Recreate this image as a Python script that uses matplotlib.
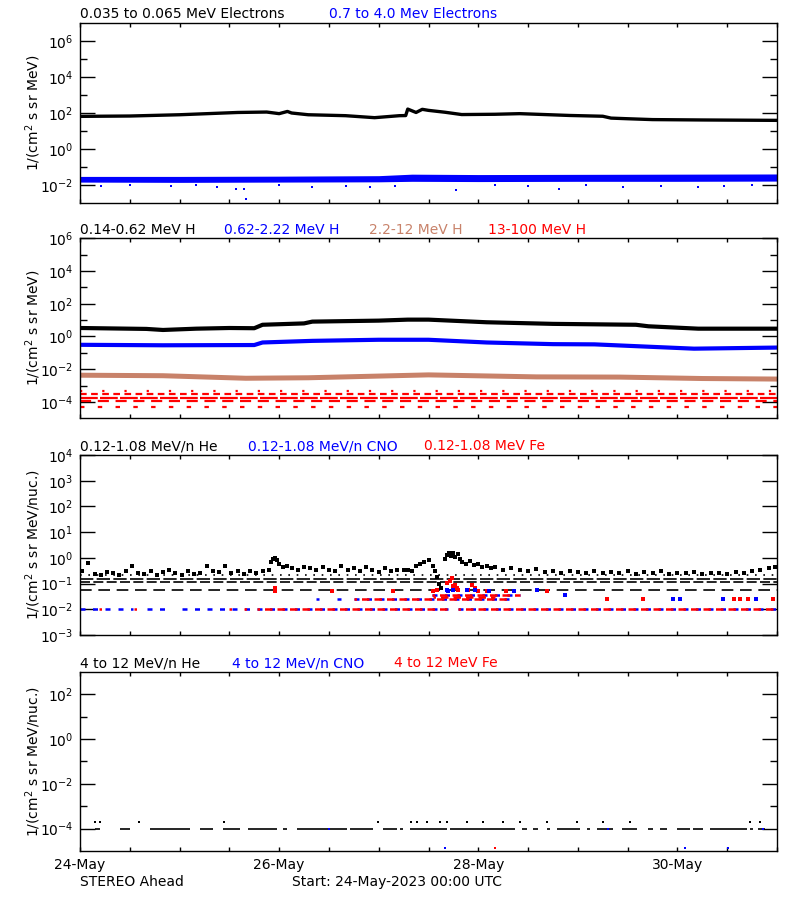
import matplotlib
matplotlib.use("Agg")
import matplotlib.pyplot as plt
from matplotlib.ticker import FixedLocator, NullFormatter, NullLocator, LogFormatterSciNotation

# time axis in hours from 24-May-2023 00:00
tick_hours = [0, 12, 24, 36, 48, 60, 72, 84, 96, 108, 120, 132, 144, 156, 168]
label_hours = [0, 48, 96, 144]
day_labels = ["24-May", "26-May", "28-May", "30-May"]

# ---- panel 1: electrons
e_lo_t = [0, 12, 24, 38, 45, 48, 50, 51, 55, 64, 71, 77, 78.5, 79, 81, 82.5, 84, 88, 92,
          100, 106, 112, 118, 126, 128, 132, 138, 150, 168]
e_lo_v = [65, 68, 80, 107, 113, 92, 122, 100, 80, 71, 55, 71, 72, 165, 107, 160, 140, 110, 82,
          85, 92, 82, 73, 66, 52, 48, 43, 41, 39]
e_hi_t = [0, 24, 48, 72, 80, 96, 120, 144, 168]
e_hi_lo = [0.0145, 0.014, 0.0145, 0.015, 0.016, 0.0155, 0.016, 0.016, 0.0165]
e_hi_up = [0.030, 0.030, 0.031, 0.033, 0.040, 0.038, 0.039, 0.040, 0.041]
e_hi_out_t = [5, 12, 22, 28, 33, 37.6, 39.5, 40, 48, 56, 64, 70, 76, 90.6, 100, 108, 115.4,
              122, 131, 140, 149, 155.3, 162]
e_hi_out_v = [0.009, 0.0095, 0.0085, 0.01, 0.0075, 0.0063, 0.0063, 0.0017, 0.0095, 0.0075,
              0.0085, 0.0075, 0.009, 0.005, 0.0095, 0.009, 0.0063, 0.0095, 0.0078, 0.009,
              0.0078, 0.009, 0.0095]

# ---- panel 2: protons
h_t1 = [0, 16, 20, 28, 36, 42, 44, 54, 56, 72, 79, 84, 98, 114, 134, 137, 149, 168]
h_v1 = [3.3, 2.9, 2.5, 3.0, 3.3, 3.2, 5.2, 6.3, 8.1, 9.3, 10.7, 10.7, 7.4, 5.9, 5.2, 4.2, 3.0, 3.0]
h_t2 = [0, 20, 42, 44, 56, 72, 84, 98, 114, 124, 140, 148, 168]
h_v2 = [0.31, 0.29, 0.30, 0.43, 0.54, 0.63, 0.63, 0.43, 0.34, 0.33, 0.22, 0.18, 0.21]
h_t3 = [0, 20, 40, 55, 70, 84, 110, 130, 150, 168]
h_v3 = [0.0043, 0.0040, 0.0028, 0.0030, 0.0037, 0.0045, 0.0034, 0.0033, 0.0027, 0.0025]
h4_levels = [4.6e-4, 3.2e-4, 1.8e-4, 1.1e-4, 5.0e-5]

# ---- panel 3: 0.12-1.08 MeV/n heavy ions
he_levels = [0.21, 0.155, 0.117, 0.055]
he_pt_t = [0.5, 2, 3.5, 5, 6.5, 8, 9.5, 11, 12.5, 14, 15.5, 17, 18.5, 20, 21.5, 23, 24.5, 26,
           27.5, 29, 30.5, 32, 33.5, 35, 36.5, 38, 39.5, 41, 42.5, 44,
           45.5, 46, 46.5, 47, 47.5, 48, 49, 50, 51, 52.5, 54,
           55.5, 57, 58.5, 60, 61.5, 63, 64.5, 66, 67.5, 69, 70.5, 72, 73.5, 75, 76.5, 78,
           79, 80, 81, 82, 83, 84, 85, 85.5, 86, 86.5, 87, 88, 88.5, 89, 89.5, 90, 90.5, 91,
           91.5, 92, 93, 94, 95, 96, 97, 98, 99,
           100, 102, 104, 106, 108, 110, 112, 114, 116, 118, 120, 122, 124, 126, 128, 130, 132,
           134, 136, 138, 140, 142, 144, 146, 148, 150, 152, 154, 156, 158, 160, 162, 164, 166, 167.5]
he_pt_v = [0.3, 0.64, 0.24, 0.22, 0.28, 0.25, 0.22, 0.3, 0.47, 0.26, 0.24, 0.3, 0.22, 0.27, 0.33,
           0.25, 0.22, 0.3, 0.24, 0.26, 0.47, 0.3, 0.28, 0.47, 0.25, 0.3, 0.23, 0.3, 0.26, 0.3,
           0.35, 0.7, 0.9, 1.0, 0.8, 0.6, 0.45, 0.5, 0.4, 0.35, 0.45,
           0.4, 0.33, 0.45, 0.35, 0.3, 0.5, 0.35, 0.4, 0.3, 0.45, 0.33, 0.28, 0.42, 0.3, 0.35, 0.33,
           0.35, 0.3, 0.5, 0.6, 0.7, 0.8, 0.5, 0.3, 0.18, 0.1, 0.07, 0.9, 1.3, 1.6, 1.2, 1.5, 1.1, 1.4,
           0.9, 0.7, 0.6, 0.75, 0.55, 0.6, 0.45, 0.5, 0.42,
           0.45, 0.35, 0.4, 0.33, 0.3, 0.38, 0.28, 0.3, 0.26, 0.3, 0.28, 0.26, 0.3, 0.25, 0.28, 0.26,
           0.3, 0.24, 0.27, 0.25, 0.3, 0.24, 0.26, 0.25, 0.28, 0.24, 0.26, 0.25, 0.24, 0.27, 0.25,
           0.3, 0.35, 0.4, 0.45]
# rows of quantised rates: (level, start hour, end hour)
cno_rows = [(0.0107, 0, 8.9), (0.0107, 9.2, 12.8), (0.0107, 16.1, 21.7), (0.0107, 24.6, 88.7),
            (0.0107, 91.2, 168), (0.0245, 57, 57.6), (0.0245, 62, 63), (0.0245, 66, 104),
            (0.037, 84.8, 106)]
fe_rows = [(0.0107, 4.5, 5.5), (0.0107, 13, 14), (0.0107, 36, 37), (0.0107, 39.5, 40.5),
           (0.0107, 42.7, 88.7), (0.0107, 91.2, 168), (0.0245, 66, 104), (0.037, 84.8, 106),
           (0.03, 85, 100)]
fe_pt_t = [47, 47, 60.7, 75.5, 85.2, 86, 88.4, 89.2, 89.6, 90, 90.4, 90.8, 91.2, 93.6, 94.4, 95.2,
           96, 98.2, 102.8, 112.5, 127, 135.7, 157.7, 159, 161, 167]
fe_pt_v = [0.068, 0.05, 0.053, 0.05, 0.05, 0.058, 0.107, 0.123, 0.166, 0.079, 0.09, 0.067, 0.058,
           0.058, 0.09, 0.067, 0.05, 0.05, 0.05, 0.05, 0.0245, 0.0245, 0.0245, 0.0245, 0.0245, 0.0245]
cno_pt_t = [88.4, 88.8, 90, 93.3, 95.2, 98.5, 104.5, 110.1, 116.9, 143, 144.6, 155, 163]
cno_pt_v = [0.058, 0.05, 0.058, 0.055, 0.055, 0.05, 0.05, 0.055, 0.037, 0.0245, 0.0245, 0.0245, 0.0245]

# ---- panel 4: 4-12 MeV/n heavy ions
he4_rows = [(3.6, 4.8), (9.6, 12.1), (16.9, 26.5), (28.9, 32.1), (34.5, 38.6), (40.5, 47.5),
            (48.9, 49.9), (52.3, 64.4), (65.1, 70.6), (73.0, 76.4), (77.1, 77.8), (79.5, 88.5),
            (89.2, 104.8), (106.5, 107.7), (109.2, 110.4), (112.6, 113.3), (115.0, 120.5),
            (122.2, 122.9), (124.6, 128.5), (130.6, 134.2), (136.9, 138.1), (139.8, 141.5),
            (143.9, 147.0), (147.8, 150.2), (151.8, 160.7), (161.5, 162.2), (163.4, 165.1)]
he4_level = 1e-4
he4_pt_t = [3.6, 4.8, 14.2, 34.7, 71.8, 79.8, 81.2, 83.6, 86.8, 88.5, 93.3, 97.1, 102.0, 106.1,
            112.6, 119.8, 126.1, 132.6, 161.5, 163.9]
he4_pt_v = [2e-4] * len(he4_pt_t)
cno4_pt_t = [60.0, 127.3, 164.6, 88.0, 145.8, 156.2]
cno4_pt_v = [1e-4, 1e-4, 1e-4, 1.3e-5, 1.3e-5, 1.3e-5]
fe4_pt_t = [100.0]
fe4_pt_v = [1.3e-5]

BLUE = "#0000ff"
RED = "#ff0000"
BROWN = "#c8826a"

plt.rcParams["font.family"] = ["DejaVu Sans"]
W, H = 800, 900
fig = plt.figure(figsize=(8, 9), dpi=100)


def panel(top, bottom, ylim, major, minor, ylabel):
    ax = fig.add_axes([80 / W, 1 - bottom / H, 697 / W, (bottom - top) / H])
    ax.set_yscale("log")
    ax.set_ylim(ylim)
    ax.set_xlim(0, 168)
    ax.yaxis.set_major_locator(FixedLocator(major))
    ax.yaxis.set_major_formatter(LogFormatterSciNotation())
    ax.yaxis.set_minor_locator(FixedLocator(minor))
    ax.yaxis.set_minor_formatter(NullFormatter())
    ax.xaxis.set_major_locator(FixedLocator(tick_hours))
    ax.xaxis.set_minor_locator(NullLocator())
    ax.set_xticklabels([])
    ax.tick_params(axis="y", which="major", direction="in", length=10.5, width=1,
                   left=True, right=True, labelsize=10, pad=5)
    ax.tick_params(axis="y", which="minor", direction="in", length=5, width=1,
                   left=True, right=True)
    ax.tick_params(axis="x", which="major", direction="in", length=3.2, width=1,
                   top=True, bottom=True)
    for s in ax.spines.values():
        s.set_linewidth(1)
    fig.text(33 / W, 1 - (top + bottom) / 2 / H, ylabel, rotation=90,
             ha="center", va="center", fontsize=10)
    return ax


def titles(top, items):
    for x, txt, c in items:
        fig.text(x / W, 1 - (top - 4.5) / H, txt, color=c, fontsize=10,
                 ha="left", va="baseline")


# panel 1
ax1 = panel(23, 203, (1e-3, 1e7), [1e-2, 1e0, 1e2, 1e4, 1e6], [1e-1, 1e1, 1e3, 1e5],
            r"1/(cm$^2$ s sr MeV)")
ax1.fill_between(e_hi_t, e_hi_lo, e_hi_up, color=BLUE, lw=0)
ax1.plot(e_hi_out_t, e_hi_out_v, "s", color=BLUE, ms=1.6, mew=0)
ax1.plot(e_lo_t, e_lo_v, color="black", lw=2.4)
titles(23, [(80, "0.035 to 0.065 MeV Electrons", "black"),
            (329, "0.7 to 4.0 Mev Electrons", BLUE)])

# panel 2
ax2 = panel(238.3, 418.3, (1e-5, 1e6), [1e-4, 1e-2, 1e0, 1e2, 1e4, 1e6],
            [1e-3, 1e-1, 1e1, 1e3, 1e5], r"1/(cm$^2$ s sr MeV)")
ax2.plot(h_t3, h_v3, color=BROWN, lw=3.6)
ax2.plot(h_t2, h_v2, color=BLUE, lw=3.0)
ax2.plot(h_t1, h_v1, color="black", lw=3.0)
red_styles = [(0, (1, 9)), (0, (3, 2)), (0, (8, 1)), (0, (5, 3)), (0, (2, 6))]
for lev, ls in zip(h4_levels, red_styles):
    ax2.hlines(lev, 0, 168, colors=RED, linestyles=[ls], lw=1.6)
titles(238.3, [(80, "0.14-0.62 MeV H", "black"), (224, "0.62-2.22 MeV H", BLUE),
               (369, "2.2-12 MeV H", BROWN), (488, "13-100 MeV H", RED)])

# panel 3
ax3 = panel(455, 635, (1e-3, 1e4), [1e-3, 1e-2, 1e-1, 1e0, 1e1, 1e2, 1e3, 1e4], [],
            r"1/(cm$^2$ s sr MeV/nuc.)")
he_styles = [(0, (1, 4)), (0, (8, 2)), (0, (6, 2)), (0, (7, 4))]
for lev, ls in zip(he_levels, he_styles):
    ax3.hlines(lev, 0, 168, colors="black", linestyles=[ls], lw=1.2)
ax3.plot(he_pt_t, he_pt_v, "s", color="black", ms=2.2, mew=0)
for lev, t0, t1 in cno_rows:
    ax3.hlines(lev, t0, t1, colors=BLUE, linestyles=[(0, (2, 3))], lw=1.8)
for lev, t0, t1 in fe_rows:
    ax3.hlines(lev, t0, t1, colors=RED, linestyles=[(2, (3, 2))], lw=1.8)
ax3.plot(fe_pt_t, fe_pt_v, "s", color=RED, ms=2.2, mew=0)
ax3.plot(cno_pt_t, cno_pt_v, "s", color=BLUE, ms=2.2, mew=0)
titles(455, [(80, "0.12-1.08 MeV/n He", "black"), (248, "0.12-1.08 MeV/n CNO", BLUE),
             (424, "0.12-1.08 MeV Fe", RED)])

# panel 4
ax4 = panel(671.7, 851, (1e-5, 1e3), [1e-4, 1e-2, 1e0, 1e2], [1e-3, 1e-1, 1e1],
            r"1/(cm$^2$ s sr MeV/nuc.)")
for t0, t1 in he4_rows:
    ax4.hlines(he4_level, t0, t1, colors="black", lw=1.2)
ax4.plot(he4_pt_t, he4_pt_v, "s", color="black", ms=1.8, mew=0)
ax4.plot(cno4_pt_t, cno4_pt_v, "s", color=BLUE, ms=1.8, mew=0)
ax4.plot(fe4_pt_t, fe4_pt_v, "s", color=RED, ms=1.8, mew=0)
ax4.set_xticks(label_hours, labels=day_labels)
ax4.xaxis.set_minor_locator(FixedLocator(tick_hours))
ax4.tick_params(axis="x", which="both", direction="in", length=3.2, width=1,
                top=True, bottom=True, labelsize=10, pad=5)
titles(671.7, [(80, "4 to 12 MeV/n He", "black"), (232, "4 to 12 MeV/n CNO", BLUE),
               (394, "4 to 12 MeV Fe", RED)])

fig.text(80 / W, 1 - 886 / H, "STEREO Ahead", fontsize=10, ha="left", va="baseline")
fig.text(292 / W, 1 - 886 / H, "Start: 24-May-2023 00:00 UTC", fontsize=10,
         ha="left", va="baseline")

fig.savefig("out.png", dpi=100)
